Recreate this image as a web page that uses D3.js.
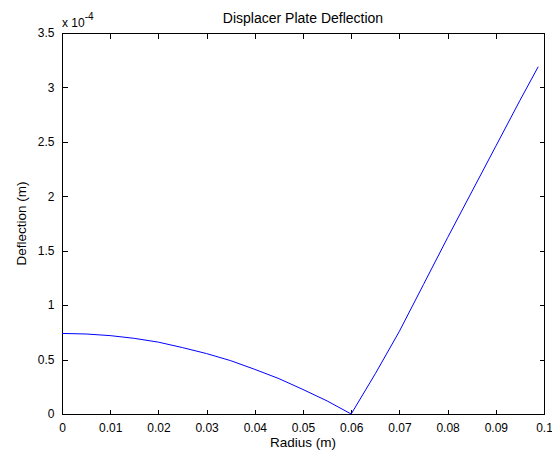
<!DOCTYPE html>
<meta charset="utf-8">
<style>
  body { margin: 0; background: white; }
  text { font-family: "Liberation Sans", Arial, sans-serif; font-size: 13.5px; fill: #000; }
  .axis path, .axis line { stroke: #000; shape-rendering: crispEdges; }
</style>
<script src="https://cdn.jsdelivr.net/npm/d3@7"></script>
<body>
<script>

  var w = 552;
  var h = 454;
  var margin = {top: 33, right: 8, bottom: 40, left: 62};

  // radius (m) and deflection (x 1e-4 m)
  var radius = [0, 0.005, 0.01, 0.015, 0.02, 0.025, 0.03, 0.035, 0.04, 0.045, 0.05, 0.055, 0.06,
                0.065, 0.07, 0.075, 0.08, 0.085, 0.09, 0.095, 0.0988];
  var deflection = [0.74, 0.735, 0.72, 0.695, 0.66, 0.61, 0.555, 0.49, 0.41, 0.325, 0.225, 0.12, 0,
                    0.37, 0.76, 1.19, 1.62, 2.04, 2.46, 2.88, 3.19];

  var xTicks = [0, 0.01, 0.02, 0.03, 0.04, 0.05, 0.06, 0.07, 0.08, 0.09, 0.1];
  var yTicks = [0, 0.5, 1, 1.5, 2, 2.5, 3, 3.5];

  var svg = d3.select("body").append("svg")
              .attr("width", w)
              .attr("height", h);

  var x = d3.scaleLinear().domain([0, 0.1]).range([margin.left, w - margin.right]);
  var y = d3.scaleLinear().domain([0, 3.5]).range([h - margin.bottom, margin.top]);

  // box
  svg.append("rect")
     .attr("x", x(0) + 0.5)
     .attr("y", y(3.5) + 0.5)
     .attr("width", x(0.1) - x(0))
     .attr("height", y(0) - y(3.5))
     .attr("fill", "none")
     .attr("stroke", "#000")
     .attr("shape-rendering", "crispEdges");

  function fmt(d) { return d3.format("")(+d.toFixed(2)); }

  var xAxis = svg.append("g").attr("class", "axis")
     .attr("transform", "translate(0," + (y(0) + 0.5) + ")")
     .call(d3.axisBottom(x).tickValues(xTicks).tickSize(-5).tickPadding(9).tickFormat(fmt));
  xAxis.select(".domain").remove();

  svg.append("g").attr("class", "axis")
     .attr("transform", "translate(0," + (y(3.5) + 0.5) + ")")
     .call(d3.axisTop(x).tickValues(xTicks).tickSize(-5).tickFormat(""))
     .select(".domain").remove();

  var yAxis = svg.append("g").attr("class", "axis")
     .attr("transform", "translate(" + (x(0) + 0.5) + ",0)")
     .call(d3.axisLeft(y).tickValues(yTicks).tickSize(-5).tickPadding(8).tickFormat(fmt));
  yAxis.select(".domain").remove();

  svg.append("g").attr("class", "axis")
     .attr("transform", "translate(" + (x(0.1) + 0.5) + ",0)")
     .call(d3.axisRight(y).tickValues(yTicks).tickSize(-5).tickFormat(""))
     .select(".domain").remove();

  svg.selectAll(".axis text").style("font-family", "'Liberation Sans', Arial, sans-serif").style("font-size", "12px");

  // curve
  var pts = radius.map(function (r, i) { return [r, deflection[i]]; });
  var line = d3.line()
               .x(function (d) { return x(d[0]); })
               .y(function (d) { return y(d[1]); });

  svg.append("path")
     .datum(pts)
     .attr("d", line)
     .attr("fill", "none")
     .attr("stroke", "#0000ff")
     .attr("stroke-width", 1);

  // labels
  svg.append("text")
     .attr("x", (x(0) + x(0.1)) / 2)
     .attr("y", 22.5)
     .attr("text-anchor", "middle")
     .style("font-size", "14px")
     .text("Displacer Plate Deflection");

  svg.append("text")
     .attr("x", (x(0) + x(0.1)) / 2)
     .attr("y", 447)
     .attr("text-anchor", "middle")
     .text("Radius (m)");

  svg.append("text")
     .attr("transform", "translate(26," + ((y(0) + y(3.5)) / 2) + ") rotate(-90)")
     .attr("text-anchor", "middle")
     .text("Deflection (m)");

  var exp = svg.append("text")
     .attr("x", 62)
     .attr("y", 27)
     .style("font-size", "12px");
  exp.append("tspan").text("x 10");
  exp.append("tspan").attr("dy", -7).style("font-size", "10px").text("-4");

</script>
</body>
